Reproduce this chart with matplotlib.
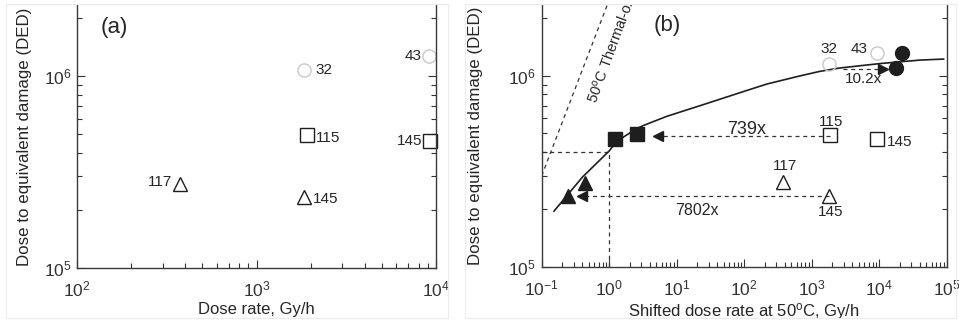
import matplotlib
matplotlib.use("Agg")
import matplotlib.pyplot as plt
from matplotlib.patches import Rectangle
from matplotlib.ticker import LogLocator, NullFormatter

plt.rcParams.update({
    "font.family": ["Liberation Sans", "DejaVu Sans"],
    "mathtext.fontset": "custom",
    "mathtext.rm": "Liberation Sans",
    "mathtext.it": "Liberation Sans:italic",
    "text.color": "#262626",
    "axes.labelcolor": "#262626",
    "xtick.color": "#333333",
    "ytick.color": "#333333",
})

INK = "#1e1e1e"
FAINT = "#c9c9c9"
DASH = (0, (3.2, 3.0))

# (a) measured dose to equivalent damage vs dose rate
circ_rate_a = [1850, 9200]
circ_ded_a = [1.08e6, 1.27e6]
circ_lab_a = ["32", "43"]
sq_rate_a = [1900, 9300]
sq_ded_a = [4.95e5, 4.6e5]
sq_lab_a = ["115", "145"]
tri_rate_a = [375, 1850]
tri_ded_a = [2.75e5, 2.34e5]
tri_lab_a = ["117", "145"]

# (b) same data, plus points shifted to 50 C
circ_rate_b = [1780, 9200]
circ_ded_b = [1.16e6, 1.32e6]
sq_rate_b = [1860, 9400]
sq_ded_b = [4.91e5, 4.68e5]
tri_rate_b = [372, 1820]
tri_ded_b = [2.78e5, 2.34e5]

circ_shift_rate = [21500, 17700]
circ_shift_ded = [1.32e6, 1.10e6]
sq_shift_rate = [1.22, 2.6]
sq_shift_ded = [4.68e5, 4.97e5]
tri_shift_rate = [0.248, 0.438]
tri_shift_ded = [2.34e5, 2.75e5]

# fitted master curve
fit_rate = [0.152, 0.4, 1.0, 1.3, 2.55, 3.2, 7.1, 22, 69, 215, 670, 1300, 2600,
            10200, 40000, 90000]
fit_ded = [1.96e5, 2.95e5, 4.05e5, 4.55e5, 5.3e5, 5.5e5, 6.14e5, 6.98e5,
           7.96e5, 9.06e5, 1.0e6, 1.055e6, 1.10e6, 1.16e6, 1.21e6, 1.225e6]

# thermal-oxidation limit at 50 C
thermal_rate = [0.1, 1.0]
thermal_ded = [3.0e5, 2.5e6]

# shift arrows: start, arrowhead, level, label
shift_from = [2900, 1860, 1820]
shift_to = [11400, 5.3, 0.392]
shift_ded = [1.09e6, 4.85e5, 2.34e5]
shift_lab = ["10.2x", "739x", "7802x"]

YLIM = (1e5, 2.35e6)


def style(ax, xlim):
    ax.set_xscale("log")
    ax.set_yscale("log")
    ax.set_xlim(*xlim)
    ax.set_ylim(*YLIM)
    for side in ("left", "right", "bottom"):
        ax.spines[side].set_color("#3a3a3a")
        ax.spines[side].set_linewidth(1.0)
    ax.spines["top"].set_visible(False)
    ax.xaxis.set_major_locator(LogLocator(base=10, numticks=20))
    ax.xaxis.set_minor_locator(LogLocator(base=10, subs=range(2, 10), numticks=20))
    ax.xaxis.set_minor_formatter(NullFormatter())
    ax.yaxis.set_minor_formatter(NullFormatter())
    ax.tick_params(which="both", direction="in", left=True, right=True, top=False,
                   labelsize=12.5, width=0.8)
    ax.tick_params(which="major", length=6)
    ax.tick_params(which="minor", length=3.5)
    ax.tick_params(axis="x", which="major", pad=8)
    ax.tick_params(axis="y", which="major", pad=4)
    ax.set_ylabel("Dose to equivalent damage (DED)", fontsize=12.2)


fig = plt.figure(figsize=(9.59, 3.28), dpi=100)

# light crop frames around each panel
for x0, x1 in ((6, 448), (465, 956)):
    fig.patches.append(Rectangle((x0 / 959, 10 / 328), (x1 - x0) / 959, 314 / 328,
                                 transform=fig.transFigure, fill=False,
                                 edgecolor="#ececec", linewidth=0.8))

ax_a = fig.add_axes([77 / 959, 60 / 328, 359 / 959, 263 / 328])
ax_b = fig.add_axes([541.7 / 959, 61 / 328, 405 / 959, 262 / 328])

# ---- panel (a)
style(ax_a, (1e2, 1e4))
ax_a.plot(circ_rate_a, circ_ded_a, "o", ms=9.5, mfc="none", mec=FAINT, mew=1.0, clip_on=False)
ax_a.plot(sq_rate_a, sq_ded_a, "s", ms=9.5, mfc="none", mec=INK, mew=1.0, clip_on=False)
ax_a.plot(tri_rate_a, tri_ded_a, "^", ms=10, mfc="none", mec=INK, mew=1.0, clip_on=False)

lab_kw = dict(fontsize=11, va="center")
ax_a.annotate(circ_lab_a[0], (circ_rate_a[0], circ_ded_a[0]), xytext=(8, 0),
              textcoords="offset points", ha="left", **lab_kw)
ax_a.annotate(circ_lab_a[1], (circ_rate_a[1], circ_ded_a[1]), xytext=(-6, 0),
              textcoords="offset points", ha="right", **lab_kw)
ax_a.annotate(sq_lab_a[0], (sq_rate_a[0], sq_ded_a[0]), xytext=(7, -2),
              textcoords="offset points", ha="left", **lab_kw)
ax_a.annotate(sq_lab_a[1], (sq_rate_a[1], sq_ded_a[1]), xytext=(-6, 0),
              textcoords="offset points", ha="right", **lab_kw)
ax_a.annotate(tri_lab_a[0], (tri_rate_a[0], tri_ded_a[0]), xytext=(-6, 1),
              textcoords="offset points", ha="right", **lab_kw)
ax_a.annotate(tri_lab_a[1], (tri_rate_a[1], tri_ded_a[1]), xytext=(6, -1),
              textcoords="offset points", ha="left", **lab_kw)

ax_a.text(0.105, 0.915, "(a)", transform=ax_a.transAxes, fontsize=16, ha="center", va="center")
ax_a.set_xlabel("Dose rate, Gy/h", fontsize=12)
ax_a.yaxis.set_label_coords(-0.125, 0.5)
ax_a.xaxis.set_label_coords(0.5, -0.128)

# ---- panel (b)
style(ax_b, (1e-1, 1e5))
ax_b.plot(thermal_rate, thermal_ded, color="#333333", lw=0.9, ls=DASH)
ax_b.text(0.659, 7.15e5, "50$^\\mathregular{o}$C Thermal-oxidation", rotation=69.7,
          rotation_mode="anchor", ha="left", va="baseline", fontsize=10.5,
          clip_on=True)

# reference lines at 1 Gy/h
ax_b.plot([1.0, 1.0], [YLIM[0], 4.0e5], color="#333333", lw=0.9, ls=DASH)
ax_b.plot([0.1, 1.0], [4.0e5, 4.0e5], color="#333333", lw=0.9, ls=DASH)

ax_b.plot(fit_rate, fit_ded, color=INK, lw=1.2)

for x0, x1, y, lab in zip(shift_from, shift_to, shift_ded, shift_lab):
    ax_b.plot([x0, x1], [y, y], color="#333333", lw=0.9, ls=DASH)
    ax_b.plot([x1], [y], ">" if x1 > x0 else "<", ms=7, color=INK)

ax_b.plot(circ_rate_b, circ_ded_b, "o", ms=9.5, mfc="none", mec=FAINT, mew=1.0)
ax_b.plot(sq_rate_b, sq_ded_b, "s", ms=9.5, mfc="none", mec=INK, mew=1.0)
ax_b.plot(tri_rate_b, tri_ded_b, "^", ms=10, mfc="none", mec=INK, mew=1.0)
ax_b.plot(circ_shift_rate, circ_shift_ded, "o", ms=10, color=INK)
ax_b.plot(sq_shift_rate, sq_shift_ded, "s", ms=10.5, color=INK)
ax_b.plot(tri_shift_rate, tri_shift_ded, "^", ms=10, color=INK)

ax_b.text(circ_rate_b[0], 1.38e6, circ_lab_a[0], fontsize=11, ha="center", va="center")
ax_b.text(5100, 1.38e6, circ_lab_a[1], fontsize=11, ha="center", va="center")
ax_b.text(sq_rate_b[0] * 1.05, 5.75e5, sq_lab_a[0], fontsize=11, ha="center", va="center")
ax_b.annotate(sq_lab_a[1], (sq_rate_b[1], sq_ded_b[1]), xytext=(7, -2),
              textcoords="offset points", ha="left", fontsize=11, va="center")
ax_b.text(tri_rate_b[0] * 1.08, 3.36e5, tri_lab_a[0], fontsize=11, ha="center", va="center")
ax_b.text(tri_rate_b[1] * 1.05, 1.94e5, tri_lab_a[1], fontsize=11, ha="center", va="center")

ax_b.text(5800, 9.6e5, shift_lab[0], fontsize=11, ha="center", va="center")
ax_b.text(110, 5.25e5, shift_lab[1], fontsize=13, ha="center", va="center")
ax_b.text(20, 1.97e5, shift_lab[2], fontsize=11.5, ha="center", va="center")

ax_b.text(0.31, 0.92, "(b)", transform=ax_b.transAxes, fontsize=16, ha="center", va="center")
ax_b.set_xlabel("Shifted dose rate at 50$^\\mathregular{o}$C, Gy/h", fontsize=12)
ax_b.yaxis.set_label_coords(-0.145, 0.5)
ax_b.xaxis.set_label_coords(0.5, -0.13)

fig.savefig("out.png", dpi=100, facecolor="white")
